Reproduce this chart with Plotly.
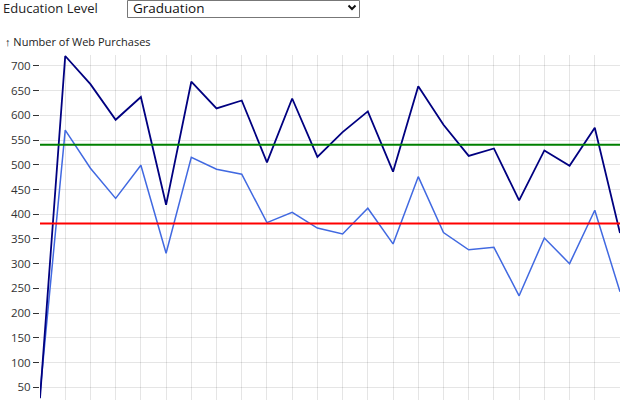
import numpy as np
import plotly.graph_objects as go

months = ["2012-07", "2012-08", "2012-09", "2012-10", "2012-11", "2012-12",
          "2013-01", "2013-02", "2013-03", "2013-04", "2013-05", "2013-06",
          "2013-07", "2013-08", "2013-09", "2013-10", "2013-11", "2013-12",
          "2014-01", "2014-02", "2014-03", "2014-04", "2014-05", "2014-06"]
web_purchases_a = [28, 720, 663, 591, 637, 419, 668, 614, 630, 505, 634, 516,
                   566, 608, 486, 659, 581, 518, 533, 428, 529, 498, 575, 362]
web_purchases_b = [38, 570, 493, 432, 499, 321, 515, 491, 481, 383, 404, 372,
                   360, 412, 340, 476, 363, 328, 333, 235, 352, 300, 408, 243]
y_ticks = list(range(0, 701, 50))
selected_level = "Graduation"

mean_a = float(np.mean(web_purchases_a))
mean_b = float(np.mean(web_purchases_b))

FONT = "Open Sans, Noto Sans, sans-serif"

fig = go.Figure()
fig.add_trace(go.Scatter(x=months, y=web_purchases_b, mode="lines",
                         line=dict(color="royalblue", width=1.5), hoverinfo="x+y"))
fig.add_trace(go.Scatter(x=months, y=web_purchases_a, mode="lines",
                         line=dict(color="navy", width=1.8), hoverinfo="x+y"))
fig.add_trace(go.Scatter(x=[months[0], months[-1]], y=[mean_a, mean_a], mode="lines",
                         line=dict(color="green", width=2), hoverinfo="y"))
fig.add_trace(go.Scatter(x=[months[0], months[-1]], y=[mean_b, mean_b], mode="lines",
                         line=dict(color="red", width=2), hoverinfo="y"))

W, H = 640, 400
ml, mr, mt, mb = 40, 20, 55, 0
ph = H - mt - mb
pw = W - ml - mr


def py(pix):
    return (H - mb - pix) / ph


def px(pix):
    return (pix - ml) / pw


fig.update_layout(
    width=W, height=H,
    margin=dict(l=ml, r=mr, t=mt, b=mb, pad=0),
    paper_bgcolor="white", plot_bgcolor="white",
    showlegend=False,
    font=dict(family=FONT, size=11, color="#222"),
    xaxis=dict(type="category", range=[0, len(months) - 1], showgrid=True,
               gridcolor="rgba(0,0,0,0.1)", gridwidth=1, zeroline=False,
               showline=False, showticklabels=False, ticks=""),
    yaxis=dict(range=[24.3, 722], tickvals=y_ticks, showgrid=True,
               gridcolor="rgba(0,0,0,0.1)", gridwidth=1, zeroline=False,
               showline=False, ticks="outside", ticklen=6, tickcolor="#333",
               tickfont=dict(size=11.5, color="#333")),
    shapes=[
        dict(type="rect", xref="paper", yref="paper",
             x0=px(127.5), x1=px(359.5), y0=py(17.5), y1=py(0.5),
             line=dict(color="#777", width=1), fillcolor="white", layer="above"),
        dict(type="path", xref="paper", yref="paper",
             path=f"M {px(348.5)} {py(5.5)} L {px(352)} {py(9)} L {px(355.5)} {py(5.5)}",
             line=dict(color="#111", width=2), layer="above"),
    ],
    annotations=[
        dict(text="Education Level", xref="paper", yref="paper", x=px(1), y=py(8),
             xanchor="left", yanchor="middle", showarrow=False,
             font=dict(family=FONT, size=13, color="#222")),
        dict(text=selected_level, xref="paper", yref="paper", x=px(131), y=py(8.5),
             xanchor="left", yanchor="middle", showarrow=False,
             font=dict(family=FONT, size=13.5, color="#111")),
        dict(text="↑ Number of Web Purchases", xref="paper", yref="paper",
             x=px(3), y=py(42), xanchor="left", yanchor="middle", showarrow=False,
             font=dict(family=FONT, size=11, color="#222")),
    ],
)

fig.write_html(
    "out.html",
    config={"responsive": False, "displayModeBar": False},
    post_script="document.body.style.margin='0';document.body.style.overflow='hidden';",
)
